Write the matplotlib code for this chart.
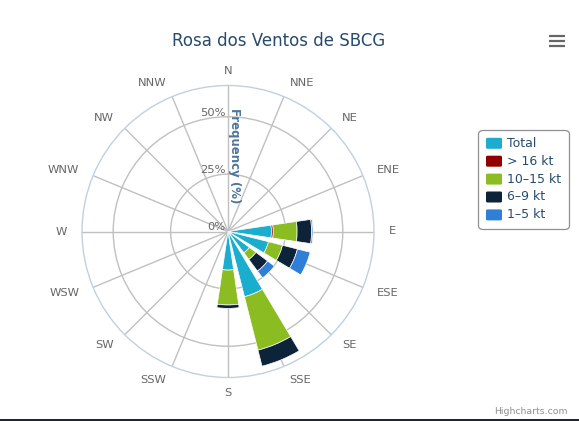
import numpy as np
import matplotlib
matplotlib.use("Agg")
import matplotlib.pyplot as plt
from matplotlib.patches import FancyBboxPatch, Rectangle
from matplotlib.lines import Line2D

# ---------------- data ----------------
directions = ["N", "NNE", "NE", "ENE", "E", "ESE", "SE", "SSE",
              "S", "SSW", "SW", "WSW", "W", "WNW", "NW", "NNW"]
series_names = ["Total", "> 16 kt", "10\u201315 kt", "6\u20139 kt", "1\u20135 kt"]
total     = [0, 0, 0, 0, 18.9, 18.2, 11.6, 29.3, 16.8, 0, 0, 0, 0, 0, 0, 0]
kt_16p    = [0, 0, 0, 0, 0.8, 0, 0, 0, 0, 0, 0, 0, 0, 0, 0, 0]
kt_10_15  = [0, 0, 0, 0, 10.4, 6.3, 3.6, 24.0, 15.2, 0, 0, 0, 0, 0, 0, 0]
kt_6_9    = [0, 0, 0, 0, 6.3, 6.7, 6.3, 7.2, 1.5, 0, 0, 0, 0, 0, 0, 0]
kt_1_5    = [0, 0, 0, 0, 0.6, 5.7, 3.7, 0, 0, 0, 0, 0, 0, 0, 0, 0]
y_ticks = [0, 25, 50]
y_tick_labels = ["0%", "25%", "50%"]
y_max = 63.6

colors = ["#1aadce", "#910000", "#8bbc21", "#0d233a", "#2f7ed8"]
stack = [total, kt_16p, kt_10_15, kt_6_9, kt_1_5]

W, H = 579, 421
fig = plt.figure(figsize=(W / 100, H / 100), dpi=100)
fig.patch.set_facecolor("white")

# polar pane: center (228, 231.5) px, radius 146 px
cx, cy, R = 228.0, 231.5, 146.0
ax = fig.add_axes([(cx - R) / W, (H - cy - R) / H, 2 * R / W, 2 * R / H],
                  projection="polar")
ax.set_theta_zero_location("N")
ax.set_theta_direction(-1)
ax.set_ylim(0, y_max)
ax.set_axisbelow(True)

n = len(directions)
theta = np.arange(n) * 2 * np.pi / n
ax.set_xticks(theta)
ax.set_xticklabels([])
ax.set_yticks(y_ticks[1:])
ax.set_yticklabels([])
ax.grid(True, color="#C0C0C0", linewidth=1.0)
ax.spines["polar"].set_color("#C0D0E0")
ax.spines["polar"].set_linewidth(1.0)
ax.tick_params(length=0)

width = 0.74 * 2 * np.pi / n
bottom = np.zeros(n)
for vals, col in zip(stack, colors):
    v = np.array(vals, dtype=float)
    m = v > 0
    ax.bar(theta[m], v[m], width=width, bottom=bottom[m], color=col,
           edgecolor="white", linewidth=0.5, zorder=3)
    bottom = bottom + v

# direction labels
r_lab = y_max * (R + 15) / R
for t, d in zip(theta, directions):
    deg = np.degrees(t) % 360
    if deg == 0 or deg == 180:
        ha = "center"
    elif deg < 180:
        ha = "left"
    else:
        ha = "right"
    ax.text(t, r_lab, d, ha=ha, va="center", fontsize=8.25, color="#666666",
            clip_on=False)

# radial labels
for v, lab in zip(y_ticks, y_tick_labels):
    ax.annotate(lab, xy=(0, v), xytext=(-1.8, 3.0), textcoords="offset points",
                ha="right", va="center", fontsize=8.25, color="#666666",
                annotation_clip=False, zorder=5)

# axis title
fig.text(235 / W, 1 - 156 / H, "Frequency (%)", rotation=-90, ha="center",
         va="center", fontsize=8.5, fontweight="bold", color="#4d759e")

# title
fig.text(278.5 / W, 1 - 45.5 / H, "Rosa dos Ventos de SBCG", ha="center",
         va="baseline", fontsize=12, color="#274b6d")

# legend (drawn in pixel space)
def px(x, y):
    return (x / W, 1 - y / H)

box = FancyBboxPatch(px(478.5, 229.5), 91 / W, 99 / H,
                     boxstyle="round,pad=0,rounding_size=0.009",
                     transform=fig.transFigure, facecolor="white",
                     edgecolor="#909090", linewidth=0.9)
fig.add_artist(box)
rows = [143.3, 161.2, 179.1, 197.0, 214.9]
for name, col, ry in zip(series_names, colors, rows):
    sw = FancyBboxPatch(px(486, ry + 5.5), 16 / W, 11 / H,
                        boxstyle="round,pad=0,rounding_size=0.003",
                        transform=fig.transFigure, facecolor=col,
                        edgecolor="none")
    fig.add_artist(sw)
    fig.text(507 / W, 1 - ry / H, name, ha="left", va="center", fontsize=9,
             color="#274b6d")

# export (hamburger) icon
for yy in (35.7, 41.0, 46.3):
    fig.add_artist(Line2D([548.5 / W, 565 / W], [1 - yy / H, 1 - yy / H],
                          transform=fig.transFigure, color="#666666",
                          linewidth=1.6, solid_capstyle="butt"))

# credits
fig.text(567.5 / W, 1 - 411 / H, "Highcharts.com", ha="right", va="center",
         fontsize=6.75, color="#909090")

# bottom dark line
fig.add_artist(Rectangle((0, 0), 1, 2 / H, transform=fig.transFigure,
                         facecolor="#1c2733", edgecolor="none"))

fig.savefig("out.png", dpi=100, facecolor="white")
